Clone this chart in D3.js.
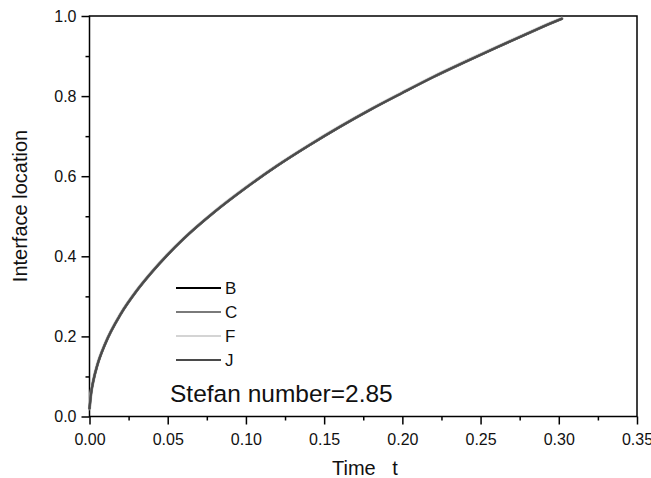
<!DOCTYPE html>
<html>
<head>
<meta charset="utf-8">
<script src="https://cdn.jsdelivr.net/npm/d3@7"></script>
<style>
  html, body { margin: 0; padding: 0; background: #fff; }
  svg { display: block; font-family: "Liberation Sans", Arial, sans-serif; }
</style>
</head>
<body>
<div id="chart"></div>
<script>
// time samples
const times = [0, 0.001, 0.0025, 0.005, 0.01, 0.02, 0.03, 0.04, 0.05, 0.06, 0.08,
  0.10, 0.12, 0.14, 0.16, 0.18, 0.20, 0.22, 0.24, 0.26, 0.28, 0.30, 0.302];
// interface location, the four runs lie on top of each other
const locB = [0.02, 0.058, 0.090, 0.128, 0.181, 0.256, 0.313, 0.361, 0.404, 0.443, 0.511,
  0.571, 0.626, 0.676, 0.723, 0.767, 0.808, 0.848, 0.885, 0.921, 0.956, 0.990, 0.993];
const locC = [0.02, 0.057, 0.090, 0.128, 0.181, 0.256, 0.313, 0.361, 0.404, 0.443, 0.511,
  0.571, 0.626, 0.676, 0.723, 0.767, 0.808, 0.848, 0.885, 0.921, 0.956, 0.990, 0.993];
const locF = [0.02, 0.058, 0.091, 0.129, 0.182, 0.257, 0.314, 0.362, 0.405, 0.444, 0.512,
  0.572, 0.627, 0.677, 0.724, 0.768, 0.809, 0.849, 0.886, 0.922, 0.957, 0.991, 0.994];
const locJ = [0.02, 0.057, 0.090, 0.128, 0.181, 0.256, 0.313, 0.361, 0.404, 0.443, 0.511,
  0.571, 0.626, 0.676, 0.723, 0.767, 0.808, 0.848, 0.885, 0.921, 0.956, 0.990, 0.993];

const seriesNames = ["B", "C", "F", "J"];
const seriesColors = ["#000000", "#7a7a7a", "#d4d4d4", "#4a4a4a"];
const xTicks = [0, 0.05, 0.10, 0.15, 0.20, 0.25, 0.30, 0.35];
const yTicks = [0, 0.2, 0.4, 0.6, 0.8, 1.0];

const width = 651, height = 478;
const margin = { top: 16, right: 14, bottom: 62, left: 89.5 };
const plotW = 637 - margin.left;
const plotH = 416.5 - margin.top;

const svg = d3.select("#chart").append("svg")
  .attr("width", width)
  .attr("height", height);

const g = svg.append("g")
  .attr("transform", `translate(${margin.left},${margin.top})`);

const x = d3.scaleLinear().domain([0, 0.35]).range([0, plotW]);
const y = d3.scaleLinear().domain([0, 1.0]).range([plotH, 0]);

// minor ticks halfway between majors
const xMinor = d3.range(0.025, 0.35, 0.05);
const yMinor = d3.range(0.1, 1.0, 0.2);

g.append("g")
  .attr("transform", `translate(0,${plotH})`)
  .call(d3.axisBottom(x).tickValues(xMinor).tickSize(4).tickFormat(""))
  .call(a => a.select(".domain").remove())
  .selectAll("line").attr("stroke-width", 1.5);

g.append("g")
  .call(d3.axisLeft(y).tickValues(yMinor).tickSize(4).tickFormat(""))
  .call(a => a.select(".domain").remove())
  .selectAll("line").attr("stroke-width", 1.5);

const xAxis = g.append("g")
  .attr("transform", `translate(0,${plotH})`)
  .call(d3.axisBottom(x).tickValues(xTicks).tickSize(8).tickPadding(9)
    .tickFormat(d3.format(".2f")));
xAxis.select(".domain").remove();
xAxis.selectAll("line").attr("stroke-width", 1.5);
xAxis.selectAll("text").attr("font-size", 16).attr("fill", "#111")
  .attr("font-family", "Liberation Sans, Arial, sans-serif");

const yAxis = g.append("g")
  .call(d3.axisLeft(y).tickValues(yTicks).tickSize(8).tickPadding(5)
    .tickFormat(d3.format(".1f")));
yAxis.select(".domain").remove();
yAxis.selectAll("line").attr("stroke-width", 1.5);
yAxis.selectAll("text").attr("font-size", 16).attr("fill", "#111")
  .attr("font-family", "Liberation Sans, Arial, sans-serif");

// frame
g.append("rect")
  .attr("width", plotW)
  .attr("height", plotH)
  .attr("fill", "none")
  .attr("stroke", "#000")
  .attr("stroke-width", 1.5);

// curves
const allSeries = [locB, locC, locF, locJ];
const line = d3.line()
  .x((d, i) => x(times[i]))
  .y(d => y(d))
  .curve(d3.curveMonotoneX);

const widths = [2.2, 2.6, 3.4, 2.0];
// draw F first so its light halo sits under the darker lines
[2, 0, 1, 3].forEach(k => {
  g.append("path")
    .datum(allSeries[k])
    .attr("fill", "none")
    .attr("stroke", seriesColors[k])
    .attr("stroke-width", widths[k])
    .attr("stroke-linejoin", "round")
    .attr("stroke-linecap", "round")
    .attr("d", line);
});

// legend
const legend = svg.append("g").attr("transform", "translate(176,288)");
seriesNames.forEach((name, i) => {
  const row = legend.append("g").attr("transform", `translate(0,${i * 24})`);
  row.append("line")
    .attr("x1", 0).attr("x2", 45)
    .attr("stroke", seriesColors[i])
    .attr("stroke-width", 2);
  row.append("text")
    .attr("x", 49).attr("y", 6)
    .attr("font-size", 17)
    .attr("fill", "#111")
    .text(name);
});

svg.append("text")
  .attr("x", 170).attr("y", 402)
  .attr("font-size", 24.5)
  .attr("fill", "#111")
  .text("Stefan number=2.85");

// axis titles
svg.append("text")
  .attr("x", 332).attr("y", 475)
  .attr("font-size", 20)
  .attr("fill", "#111")
  .attr("xml:space", "preserve")
  .style("white-space", "pre")
  .text("Time   t");

svg.append("text")
  .attr("transform", "translate(27,206) rotate(-90)")
  .attr("text-anchor", "middle")
  .attr("font-size", 20)
  .attr("fill", "#111")
  .text("Interface location");
</script>
</body>
</html>
